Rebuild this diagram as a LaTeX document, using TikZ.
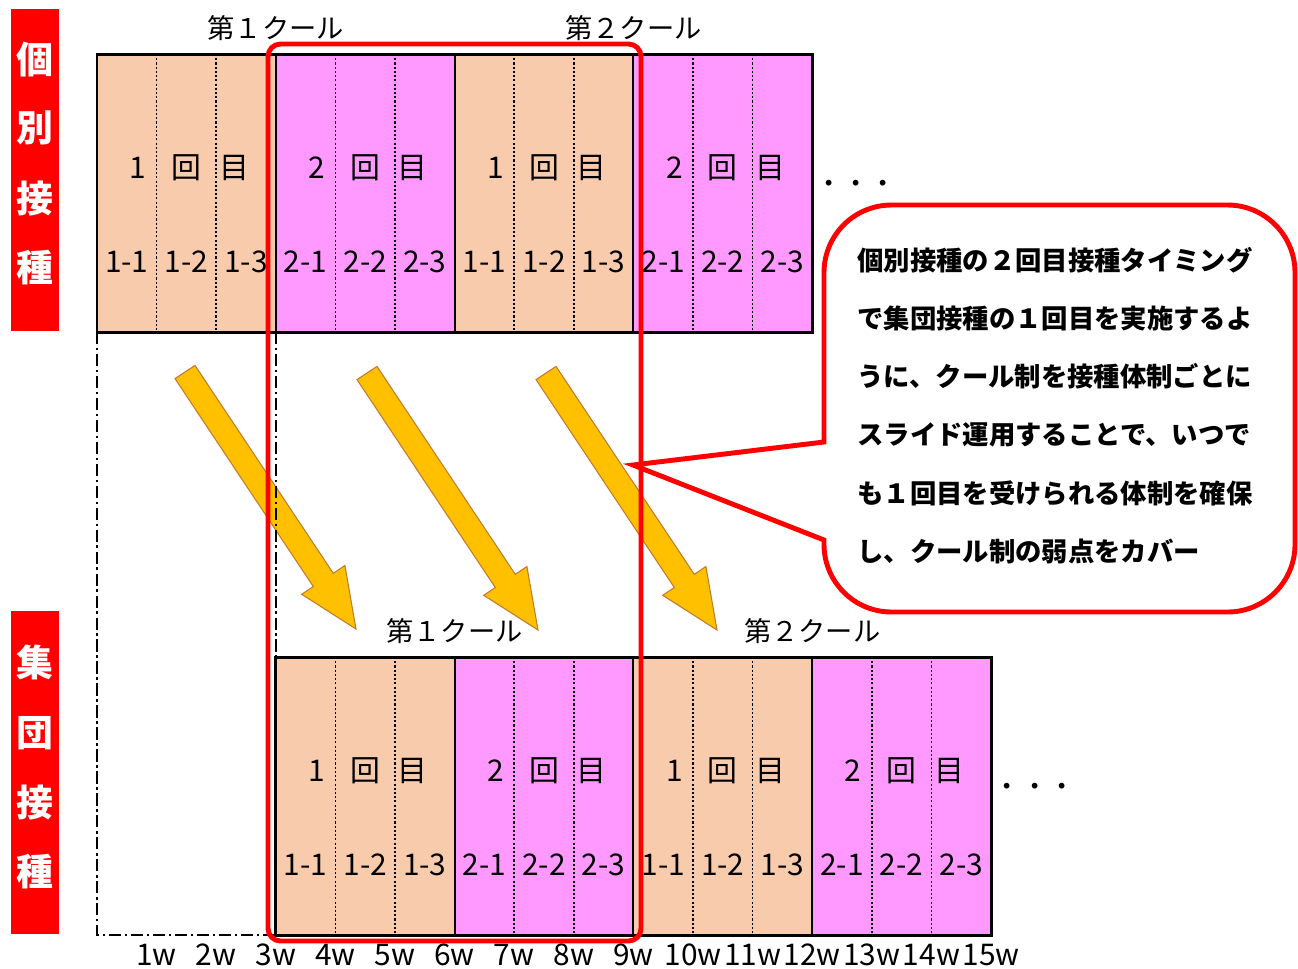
\documentclass[tikz,border=0pt]{standalone}
\usepackage{fontspec}
\usepackage{xcolor}
\usepackage{tikz}
\setmainfont{Noto Sans CJK JP}
\definecolor{peach}{HTML}{F8CBAD}
\definecolor{pinkfill}{HTML}{FF99FF}
\definecolor{gold}{HTML}{FFC000}
\definecolor{goldedge}{HTML}{C07A2E}
\definecolor{alarm}{HTML}{FF0000}
\newcommand{\lblsize}{\fontsize{17pt}{20pt}\selectfont}
\newcommand{\headsize}{\fontsize{15.5pt}{18pt}\selectfont}
\newcommand{\notesize}{\fontsize{15pt}{18pt}\selectfont\bfseries}
\newcommand{\sidesize}{\fontsize{21pt}{24pt}\selectfont\bfseries}

\begin{document}
\begin{tikzpicture}[x=0.02cm,y=-0.02cm,
    lbl/.style={inner sep=0pt,font=\lblsize},
    head/.style={inner sep=0pt,font=\headsize},
    side/.style={inner sep=0pt,text=white,font=\sidesize},
    note/.style={inner sep=0pt,anchor=west,font=\notesize},
    cellsep/.style={line width=0.9pt,dash pattern=on 1.2pt off 1.2pt},
    blocksep/.style={line width=1.2pt},
    frame/.style={line width=1.7pt},
    guide/.style={line width=0.9pt,dash pattern=on 7pt off 2pt on 1.5pt off 2pt},
    shift arrow/.style={fill=gold,draw=goldedge,line width=0.6pt},
    roundframe/.style={draw=alarm,line width=2.8pt,rounded corners=0.25cm},
    callout/.style={draw=alarm,fill=white,line width=2.8pt}]
  \clip (0,0) rectangle (1298,968);

  % side labels
  \fill[alarm] (11,9) rectangle (59,331);
  \fill[alarm] (11,611) rectangle (59,934);
  \foreach \c/\yy in {個/60,別/128,接/199,種/268}
    \node[side] (ind\c) at (35,\yy) {\c};
  \foreach \c/\yy in {集/662,団/733,接/803,種/872}
    \node[side] (grp\c) at (35,\yy) {\c};

  % two rows of weeks
  \foreach \row/\xo/\yo in {top/97/54,bot/275.8/657} {
    \foreach \b/\n/\col in {0/1/peach,1/2/pinkfill,2/1/peach,3/2/pinkfill} {
      \pgfmathsetmacro{\xb}{\xo+178.8*\b}
      \fill[\col] (\xb,\yo) rectangle (\xb+178.8,\yo+278);
      \draw[cellsep] (\xb+59.6,\yo) -- (\xb+59.6,\yo+278);
      \draw[cellsep] (\xb+119.2,\yo) -- (\xb+119.2,\yo+278);
      \node[lbl] (\row\b a) at (\xb+41,\yo+114) {\n};
      \node[lbl] (\row\b b) at (\xb+89.4,\yo+114) {回};
      \node[lbl] (\row\b c) at (\xb+137,\yo+114) {目};
      \foreach \k in {1,2,3}
        \node[lbl] (\row\b s\k) at (\xb+59.6*\k-29.8,\yo+208) {\n-\k};
    }
    \foreach \b in {1,2,3}
      \draw[blocksep] (\xo+178.8*\b,\yo) -- (\xo+178.8*\b,\yo+278);
    \draw[frame] (\xo,\yo) rectangle (\xo+715.2,\yo+278);
    \node[head] (\row h1) at (\xo+178.8,\yo-26) {第１クール};
    \node[head] (\row h2) at (\xo+536.4,\yo-26) {第２クール};
    \node[head] (\row more) at (\xo+759,\yo+133) {・・・};
  }

  \foreach \i in {1,...,15}
    \node[lbl] (w\i) at (97+59.6*\i,955) {\i w};

  % shift arrows
  \foreach \s/\t in {0/0,182/1,361/1} {
    \begin{scope}[shift={(\s,\t)}]
      \draw[shift arrow] (175,378.6) -- (313.3,586.5) -- (301.7,594.3) -- (356,629)
        -- (344.9,565.5) -- (333.3,573.3) -- (195,365.4) -- cycle;
    \end{scope}
  }

  \draw[guide] (97,332) -- (97,935) -- (276,935);
  \draw[guide] (276,332) -- (276,657);

  \draw[roundframe] (268,44) rectangle (641,941);

  % callout
  \draw[callout] (824,442) -- (633,465) -- (824,540) [rounded corners=1.35cm] -- (824,612)
    -- (1295,612) -- (1295,205) -- (824,205) [sharp corners] -- cycle;
  \foreach \txt [count=\i] in {個別接種の２回目接種タイミング,
      で集団接種の１回目を実施するよ,
      うに、クール制を接種体制ごとに,
      スライド運用することで、いつで,
      も１回目を受けられる体制を確保,
      し、クール制の弱点をカバー}
    \node[note] (note\i) at (857,202+58.2*\i) {\txt};
\end{tikzpicture}
\end{document}
